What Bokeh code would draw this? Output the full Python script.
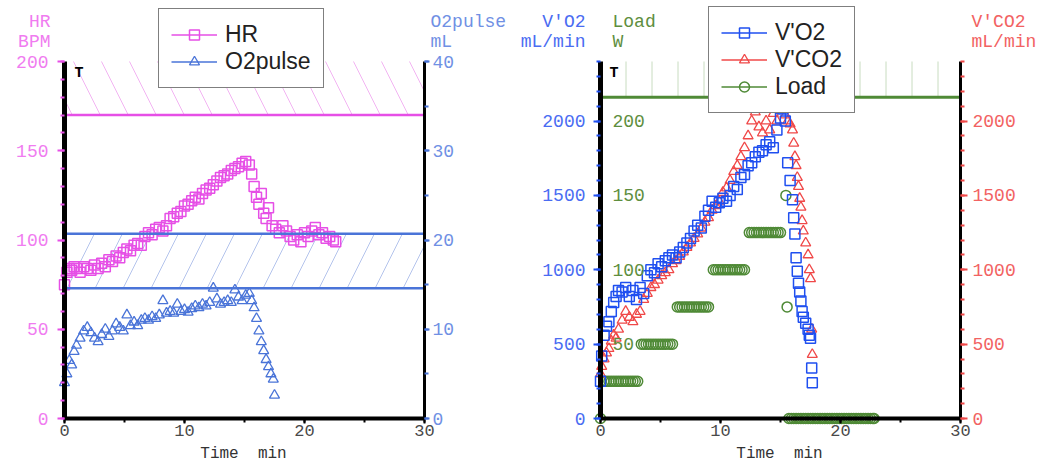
from bokeh.plotting import figure
from bokeh.models import (Range1d, LinearAxis, SingleIntervalTicker, Label,
                          Legend, LegendItem, BoxAnnotation)
from bokeh.layouts import row
from bokeh.embed import file_html
from bokeh.resources import INLINE
from bokeh.core.properties import value

# ---------------- data ----------------
t_axis = [0, 30]          # time axis (min)
hr_axis = [0, 200]        # HR axis (BPM)
o2p_axis = [0, 40]        # O2 pulse axis (mL)
gas_axis = [0, 2400]      # V'O2 / V'CO2 axes (mL/min)
load_axis = [0, 240]      # Load axis (W)

# Left panel: heart rate (BPM) and O2 pulse (mL) versus time (min)
t_hr = [0.0, 0.2, 0.4, 0.6, 0.8, 1.0,
        1.3, 1.6, 1.9, 2.2, 2.5, 2.8, 3.1, 3.4, 3.7, 4.0,
        4.3, 4.6, 4.9, 5.2, 5.5, 5.8, 6.1, 6.4, 6.7, 7.0,
        7.3, 7.6, 7.9, 8.2, 8.5, 8.8, 9.1, 9.4, 9.7, 10.0,
        10.3, 10.6, 10.9, 11.2, 11.5, 11.8, 12.1, 12.4, 12.7, 13.0,
        13.3, 13.6, 13.9, 14.2, 14.5, 14.8, 15.1, 15.4,
        15.6, 15.8, 16.0, 16.2, 16.4, 16.6, 16.8, 17.0,
        17.3, 17.6, 17.9, 18.2, 18.5, 18.8, 19.1, 19.4, 19.7, 20.0,
        20.3, 20.6, 20.9, 21.2, 21.5, 21.8, 22.1, 22.4, 22.6]
hr = [75, 82, 84, 83, 85, 84,
      82, 85, 84, 83, 86, 84, 87, 85, 89, 88,
      91, 90, 93, 95, 94, 97, 98, 97, 102, 104,
      103, 106, 107, 105, 108, 112, 113, 115, 116, 119,
      120, 122, 124, 123, 126, 128, 129, 131, 133, 135,
      136, 137, 139, 140, 141, 143, 144, 142,
      137, 130, 124, 120, 126, 115, 112, 118,
      108, 106, 104, 108, 105, 102, 100, 103, 99, 104,
      102, 105, 107, 103, 104, 101, 102, 100, 99]

t_o2p = [0.0, 0.2, 0.4, 0.6, 0.8, 1.0,
         1.3, 1.6, 1.9, 2.2, 2.5, 2.8, 3.1, 3.4, 3.7, 4.0,
         4.3, 4.6, 4.9, 5.2, 5.5, 5.8, 6.1, 6.4, 6.7, 7.0,
         7.3, 7.6, 7.9, 8.2, 8.5, 8.8, 9.1, 9.4, 9.7, 10.0,
         10.3, 10.6, 10.9, 11.2, 11.5, 11.8, 12.1, 12.4, 12.7, 13.0,
         13.3, 13.6, 13.9, 14.2, 14.5, 14.8, 15.1, 15.4,
         15.6, 15.8, 16.0, 16.2, 16.4, 16.6, 16.8, 17.0, 17.2, 17.4, 17.5]
o2pulse = [4.0, 5.0, 6.5, 6.0, 7.5, 8.2,
           9.0, 9.8, 10.2, 9.6, 9.0, 8.6, 9.4, 10.0, 9.2, 9.8,
           10.6, 10.2, 9.8, 11.6, 10.4, 10.8, 10.4, 11.0, 11.2, 11.0,
           11.4, 11.2, 11.6, 13.2, 11.8, 12.0, 11.8, 12.8, 12.0, 12.2,
           11.9, 12.3, 12.6, 12.4, 12.8, 12.6, 13.0, 14.6, 13.4, 12.8,
           13.0, 13.2, 13.0, 14.4, 13.6, 13.2, 13.8, 14.0,
           13.2, 12.4, 11.2, 9.8, 8.6, 7.6, 6.6, 5.8, 5.0, 4.4, 2.6]

hr_limit = 170            # HR reference line
o2p_band = [14.6, 20.7]   # O2 pulse reference band

# Right panel: V'O2, V'CO2 (mL/min) and Load (W) versus time (min)
t_gas = [0.0, 0.1, 0.3, 0.5, 0.7, 0.9, 1.1, 1.3, 1.5,
         1.8, 2.1, 2.4, 2.7, 3.0, 3.3, 3.6, 3.9, 4.2, 4.5,
         4.8, 5.1, 5.4, 5.7, 6.0, 6.3, 6.6, 6.9, 7.2, 7.5,
         7.8, 8.1, 8.4, 8.7, 9.0, 9.3, 9.6, 9.9, 10.2, 10.5,
         10.8, 11.1, 11.4, 11.7, 12.0, 12.3, 12.6, 12.9, 13.2, 13.5,
         13.8, 14.1, 14.4, 14.7, 15.0,
         15.2, 15.4, 15.6, 15.8, 16.0,
         16.1, 16.2, 16.3, 16.4, 16.5, 16.6, 16.7, 16.8, 16.9,
         17.1, 17.3, 17.4, 17.5, 17.6, 17.65]
vo2 = [250, 420, 560, 620, 650, 720, 780, 820, 860,
       850, 880, 820, 860, 800, 880, 840, 960, 1000, 980,
       1040, 1020, 1060, 1080, 1100, 1080, 1120, 1150, 1180, 1210,
       1260, 1300, 1280, 1360, 1400, 1460, 1420, 1450, 1480, 1460,
       1500, 1560, 1540, 1620, 1640, 1700, 1720, 1760, 1790, 1800,
       1840, 1860, 1820, 1940, 2020,
       2080, 2000, 1720, 1600, 1470,
       1350, 1240, 1080, 990, 910, 850, 790, 720, 680,
       640, 600, 560, 540, 340, 240]
vco2 = [300, 350, 400, 440, 470, 520, 560, 540, 600,
        660, 720, 680, 650, 700, 720, 800, 840, 880, 900,
        930, 960, 980, 1000, 1040, 1060, 1090, 1120, 1150, 1180,
        1210, 1240, 1280, 1320, 1350, 1400, 1430, 1460, 1520, 1550,
        1600, 1660, 1700, 1760, 1820, 1900, 2000, 2060, 1960, 1920,
        2000, 1940, 2050, 2000, 2080,
        2120, 2040, 2000, 1980, 1940,
        1850, 1760, 1700, 1620, 1560, 1480, 1420, 1330, 1260,
        1180, 1100, 1000, 940, 600, 430]

load_levels = [0, 25, 50, 75, 100, 125, 150, 75, 0]
load_times = [
    [0.0],
    [0.3, 0.5, 0.7, 0.9, 1.1, 1.3, 1.5, 1.7, 1.9, 2.1, 2.3, 2.5, 2.7, 2.9, 3.1],
    [3.4, 3.6, 3.8, 4.0, 4.2, 4.4, 4.6, 4.8, 5.0, 5.2, 5.4, 5.6, 5.8, 6.0],
    [6.4, 6.6, 6.8, 7.0, 7.2, 7.4, 7.6, 7.8, 8.0, 8.2, 8.4, 8.6, 8.8, 9.0],
    [9.4, 9.6, 9.8, 10.0, 10.2, 10.4, 10.6, 10.8, 11.0, 11.2, 11.4, 11.6, 11.8, 12.0],
    [12.4, 12.6, 12.8, 13.0, 13.2, 13.4, 13.6, 13.8, 14.0, 14.2, 14.4, 14.6, 14.8, 15.0],
    [15.45],
    [15.55],
    [15.7, 15.9, 16.1, 16.3, 16.5, 16.7, 16.9, 17.1, 17.3, 17.5, 17.7, 17.9, 18.1,
     18.3, 18.5, 18.7, 18.9, 19.1, 19.3, 19.5, 19.7, 19.9, 20.1, 20.3, 20.5, 20.7,
     20.9, 21.1, 21.3, 21.5, 21.7, 21.9, 22.1, 22.3, 22.5, 22.7, 22.8],
]
load_limit = 216
load_ticks = [50, 100, 150, 200]

# ---------------- styling / layout (pixels) ----------------
MONO = "Liberation Mono"
SANS = "Liberation Sans"
HR_C, HR_L = "#e64fe6", "#f07cf0"
O2P_C, O2P_L = "#4a74d8", "#7090e4"
VO2_C, VO2_L = "#1f4ff0", "#4a6cf2"
VCO2_C, VCO2_L = "#f04848", "#f26262"
LOAD_C, LOAD_L = "#4f8a36", "#5e8e3e"
XLAB = "#4a4a4a"
NAN = float("nan")

H = 463
Y_TOP, Y_BOT = 61, 418      # pixel rows of the data area
DATA_W = 360
W1, X1 = 508, 64            # left figure width, data-area left offset
W2, X2 = 534, 92            # right figure width, data-area left offset
LY = 4                      # vertical correction for labels


def ext_range(lo, hi, px_before, px_len, px_after):
    k = (hi - lo) / px_len
    return Range1d(lo - px_before * k, hi + px_after * k)


def yrange(ax):
    return ext_range(ax[0], ax[1], H - Y_BOT, Y_BOT - Y_TOP, Y_TOP)


def xrange(W, X):
    return ext_range(t_axis[0], t_axis[1], X, DATA_W, W - X - DATA_W)


def make_axis(loc, bounds, tick_c, label_c, lw, interval, minor, standoff,
              tick_out=7, y_range_name=None, font_size="18px"):
    kw = dict(fixed_location=loc, bounds=tuple(bounds),
              ticker=SingleIntervalTicker(interval=interval, num_minor_ticks=minor),
              axis_line_color="black", axis_line_width=lw,
              major_tick_line_color=tick_c, major_tick_line_width=2,
              major_tick_out=tick_out, major_tick_in=0,
              minor_tick_line_color=tick_c, minor_tick_line_width=2,
              minor_tick_out=4, minor_tick_in=0,
              major_label_text_color=label_c, major_label_text_font=MONO,
              major_label_text_font_size=font_size, major_label_standoff=standoff)
    if y_range_name:
        kw["y_range_name"] = y_range_name
    return LinearAxis(**kw)


def slabel(p, x, y, text, color, align="left", size="18px", base="alphabetic", style="normal"):
    p.add_layout(Label(x=x, y=y, x_units="screen", y_units="screen", text=text,
                       text_color=color, text_align=align, text_baseline=base,
                       text_font=MONO, text_font_size=size, text_font_style=style))


def make_fig(W, X, yax):
    p = figure(width=W, height=H, x_range=xrange(W, X), y_range=yrange(yax),
               output_backend="svg", toolbar_location=None,
               x_axis_location=None, y_axis_location=None,
               min_border=0, min_border_left=0, min_border_right=0,
               min_border_top=0, min_border_bottom=0)
    p.outline_line_color = None
    p.grid.visible = False
    p.background_fill_color = "white"
    p.border_fill_color = "white"
    p.add_layout(make_axis(yax[0], t_axis, "black", XLAB, 4, 10, 2, 1, tick_out=5,
                           font_size="17px"), "below")
    return p


def make_legend(items, loc):
    return Legend(items=items, location=loc, orientation="vertical",
                  label_text_font=SANS, label_text_font_size="23px",
                  label_text_color="#222222",
                  glyph_width=46, glyph_height=25, label_height=25, spacing=0,
                  padding=12, margin=0, label_standoff=8,
                  border_line_color="black", border_line_width=1.5,
                  background_fill_color="white", background_fill_alpha=1)


# ---------------- left panel ----------------
p1 = make_fig(W1, X1, hr_axis)
p1.extra_y_ranges = {"o2p": yrange(o2p_axis)}
p1.add_layout(make_axis(t_axis[0], hr_axis, HR_C, HR_L, 5, 50, 5, 9), "left")
p1.add_layout(make_axis(t_axis[1], o2p_axis, O2P_C, O2P_L, 3, 10, 2, 3, tick_out=5,
                        y_range_name="o2p"), "right")

p1.add_layout(BoxAnnotation(left=t_axis[0], right=t_axis[1], bottom=hr_limit, top=hr_axis[1],
                            fill_alpha=0, line_alpha=0,
                            hatch_pattern="\\", hatch_color="#f2b4f2", hatch_scale=56,
                            hatch_weight=1, level="underlay"))
p1.add_layout(BoxAnnotation(left=t_axis[0], right=t_axis[1],
                            bottom=o2p_band[0], top=o2p_band[1], y_range_name="o2p",
                            fill_alpha=0, line_alpha=0,
                            hatch_pattern="/", hatch_color="#b4c4ec", hatch_scale=56,
                            hatch_weight=1, level="underlay"))

r_hr = p1.scatter(t_hr, hr, marker="square", size=10, fill_color=None,
                  line_color=HR_C, line_width=1.5)
r_o2 = p1.scatter(t_o2p, o2pulse, marker="triangle", size=10, fill_color=None,
                  line_color=O2P_C, line_width=1.3, y_range_name="o2p")

p1.segment(x0=[t_axis[0]], x1=[t_axis[1]], y0=[hr_limit], y1=[hr_limit],
           line_color=HR_C, line_width=2.5)
p1.segment(x0=[t_axis[0]] * 2, x1=[t_axis[1]] * 2, y0=o2p_band, y1=o2p_band,
           line_color=O2P_C, line_width=2.5, y_range_name="o2p")

lhr = p1.line([NAN], [NAN], line_color=HR_C, line_width=1.5)
lo2 = p1.line([NAN], [NAN], line_color=O2P_C, line_width=1.5)
p1.add_layout(make_legend([LegendItem(label="HR", renderers=[lhr, r_hr]),
                           LegendItem(label="O2pulse", renderers=[lo2, r_o2])],
                          (X1 + 94, H - 88)))

slabel(p1, X1 - 14, H - 25 + LY, "HR", HR_L, align="right")
slabel(p1, X1 - 14, H - 45 + LY, "BPM", HR_L, align="right")
slabel(p1, X1 + 366, H - 25 + LY, "O2pulse", O2P_L)
slabel(p1, X1 + 366, H - 45 + LY, "mL", O2P_L)
slabel(p1, X1 + 10, H - 64, "T", "black", size="15px", base="top", style="bold")
slabel(p1, X1 + 179, 6 + LY, "Time\u00a0 min", "#333333", align="center", size="16px")

# ---------------- right panel ----------------
p2 = make_fig(W2, X2, gas_axis)
p2.extra_y_ranges = {"load": yrange(load_axis), "vco2": yrange(gas_axis)}
p2.add_layout(make_axis(t_axis[0], gas_axis, VO2_C, VO2_L, 5, 500, 5, 8), "left")
p2.add_layout(make_axis(t_axis[1], gas_axis, VCO2_C, VCO2_L, 3, 500, 5, 5,
                        y_range_name="vco2"), "right")

p2.add_layout(BoxAnnotation(left=t_axis[0], right=t_axis[1], bottom=load_limit,
                            top=load_axis[1], y_range_name="load",
                            fill_alpha=0, line_alpha=0,
                            hatch_pattern="|", hatch_color="#c8dcc0", hatch_scale=26,
                            hatch_weight=1, level="underlay"))

lt, lw = [], []
for lev, times in zip(load_levels, load_times):
    for t in times:
        lt.append(t)
        lw.append(lev)

r_load = p2.scatter(lt, lw, marker="circle", size=10, fill_color=None,
                    line_color=LOAD_C, line_width=1.5, y_range_name="load")
r_vco2 = p2.scatter(t_gas, vco2, marker="triangle", size=10, fill_color=None,
                    line_color=VCO2_C, line_width=1.3, y_range_name="vco2")
r_vo2 = p2.scatter(t_gas, vo2, marker="square", size=10, fill_color=None,
                   line_color=VO2_C, line_width=1.5)

p2.segment(x0=[t_axis[0]], x1=[t_axis[1]], y0=[load_limit], y1=[load_limit],
           line_color=LOAD_C, line_width=3, y_range_name="load")

p2.text([t_axis[0]] * len(load_ticks), load_ticks, text=[str(v) for v in load_ticks],
        y_range_name="load", x_offset=12, text_baseline="middle", text_align="left",
        text_font=value(MONO), text_font_size="18px", text_color=LOAD_L)

lvo2 = p2.line([NAN], [NAN], line_color=VO2_C, line_width=1.5)
lvco2 = p2.line([NAN], [NAN], line_color=VCO2_C, line_width=1.5)
lld = p2.line([NAN], [NAN], line_color=LOAD_C, line_width=1.5)
p2.add_layout(make_legend([LegendItem(label="V'O2", renderers=[lvo2, r_vo2]),
                           LegendItem(label="V'CO2", renderers=[lvco2, r_vco2]),
                           LegendItem(label="Load", renderers=[lld, r_load])],
                          (X2 + 108, H - 113)))

slabel(p2, X2 - 15, H - 25 + LY, "V'O2", VO2_L, align="right")
slabel(p2, X2 - 15, H - 45 + LY, "mL/min", VO2_L, align="right")
slabel(p2, X2 + 12, H - 25 + LY, "Load", LOAD_L)
slabel(p2, X2 + 12, H - 45 + LY, "W", LOAD_L)
slabel(p2, X2 + 371, H - 25 + LY, "V'CO2", VCO2_L)
slabel(p2, X2 + 371, H - 45 + LY, "mL/min", VCO2_L)
slabel(p2, X2 + 9, H - 64, "T", "black", size="15px", base="top", style="bold")
slabel(p2, X2 + 179, 6 + LY, "Time\u00a0 min", "#333333", align="center", size="16px")

layout = row(p1, p2)
open("out.html", "w").write(file_html(layout, INLINE))
